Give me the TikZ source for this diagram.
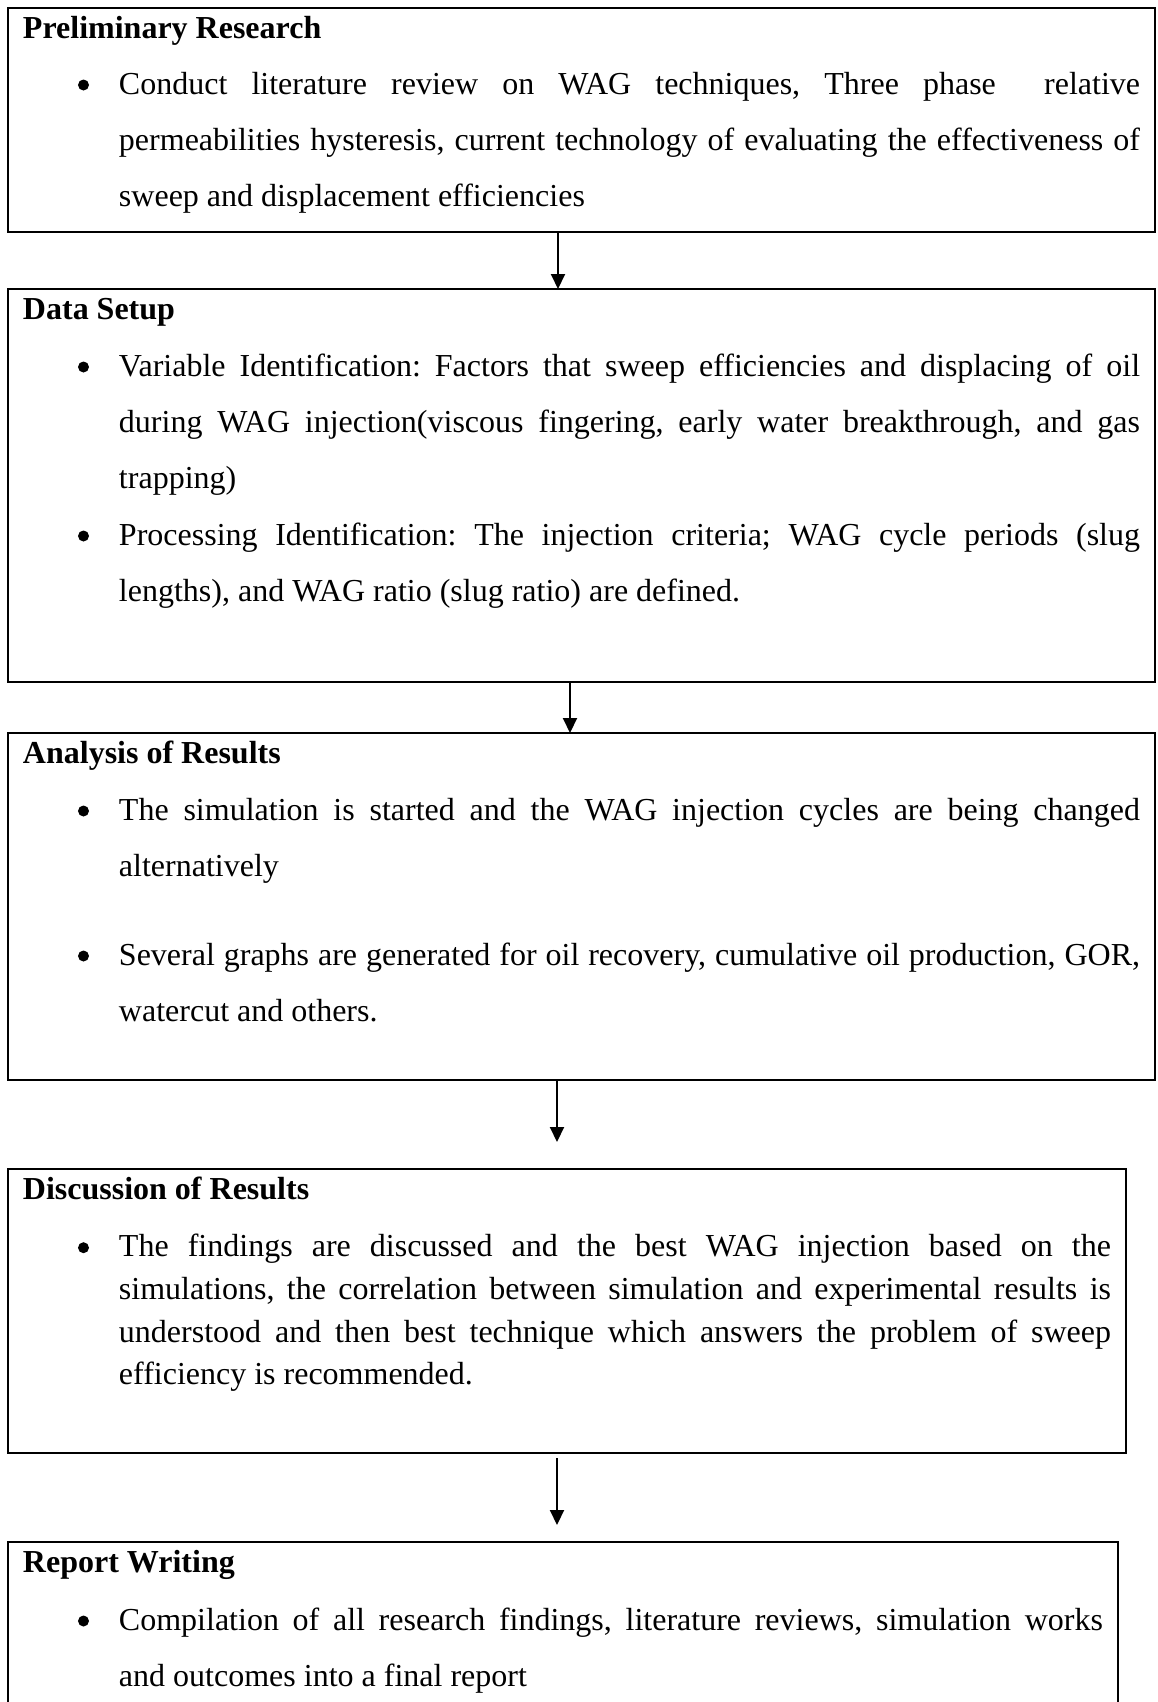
\documentclass[tikz,border=0pt]{standalone}
\usepackage{fontspec}
\setmainfont{Liberation Serif}
\usetikzlibrary{arrows.meta,positioning}
\newcommand{\stagedot}{\tikz[baseline=0pt,x=1pt,y=1pt]\fill (0,9) circle[radius=5.5];}
\newcommand{\stagehead}[1]{{\leftskip=15pt\noindent\rule{0pt}{30pt}\textbf{#1}\par}}
\newcommand{\stageitem}[1]{{\leftskip=111pt\rightskip=15pt\noindent\llap{\makebox[41pt][l]{\stagedot}}#1\par}}
\newcommand{\stagetext}[3]{\parbox[c][#1][t]{#2}{\fontsize{32pt}{56pt}\selectfont\frenchspacing
 \spaceskip=8pt plus 40pt minus 2pt\tolerance=10000\hyphenpenalty=10000\parindent=0pt\parskip=0pt #3}}

\begin{document}
\begin{tikzpicture}[x=1pt,y=-1pt,>={Triangle[length=15pt,width=14pt]},
 stage/.style={draw,line width=2pt,inner sep=0pt,outer sep=0pt,anchor=north west},
 flow/.style={->,line width=2pt}]
\path[use as bounding box,fill=white] (0,0) rectangle (1157,1702);
\clip (0,0) rectangle (1157,1702);
\node[stage] (prelim) at (8,8) {\stagetext{224pt}{1147pt}{%
 \stagehead{Preliminary Research}
 \stageitem{Conduct literature review on WAG techniques, Three phase\ \ relative\linebreak
 permeabilities hysteresis, current technology of evaluating the effectiveness of\linebreak
 sweep and displacement efficiencies}}};
\node[stage,below right=57pt and 0pt of prelim.south west] (setup) {\stagetext{393pt}{1147pt}{%
 \stagehead{Data Setup}
 \vspace{1pt}
 \stageitem{Variable Identification: Factors that sweep efficiencies and displacing of oil\linebreak
 during WAG injection(viscous fingering, early water breakthrough, and gas\linebreak
 trapping)}
 \vspace{1pt}
 \stageitem{Processing Identification: The injection criteria; WAG cycle periods (slug\linebreak
 lengths), and WAG ratio (slug ratio) are defined.}}};
\node[stage,below right=51pt and 0pt of setup.south west] (analysis) {\stagetext{347pt}{1147pt}{%
 \stagehead{Analysis of Results}
 \vspace{1pt}
 \stageitem{The simulation is started and the WAG injection cycles are being changed\linebreak
 alternatively}
 \vspace{33pt}
 \stageitem{Several graphs are generated for oil recovery, cumulative oil production, GOR,\linebreak
 watercut and others.}}};
\node[stage,below right=89pt and 0pt of analysis.south west] (discussion) {\stagetext{284pt}{1118pt}{%
 \stagehead{Discussion of Results}
 \fontsize{32pt}{42.7pt}\selectfont
 \vspace{15pt}
 \stageitem{The findings are discussed and the best WAG injection based on the\linebreak
 simulations, the correlation between simulation and experimental results is\linebreak
 understood and then best technique which answers the problem of sweep\linebreak
 efficiency is recommended.}}};
\node[stage,below right=89pt and 0pt of discussion.south west] (report) {\stagetext{200pt}{1110pt}{%
 \stagehead{Report Writing}
 \vspace{2pt}
 \stageitem{Compilation of all research findings, literature reviews, simulation works\linebreak
 and outcomes into a final report}}};
\draw[flow] (prelim.south -| 558,0) -- (setup.north -| 558,0);
\draw[flow] (setup.south -| 570,0) -- (analysis.north -| 570,0);
\draw[flow,shorten >=27pt] (analysis.south -| 557,0) -- (discussion.north -| 557,0);
\draw[flow,shorten <=5pt,shorten >=17pt] (discussion.south -| 557,0) -- (report.north -| 557,0);
\end{tikzpicture}
\end{document}
